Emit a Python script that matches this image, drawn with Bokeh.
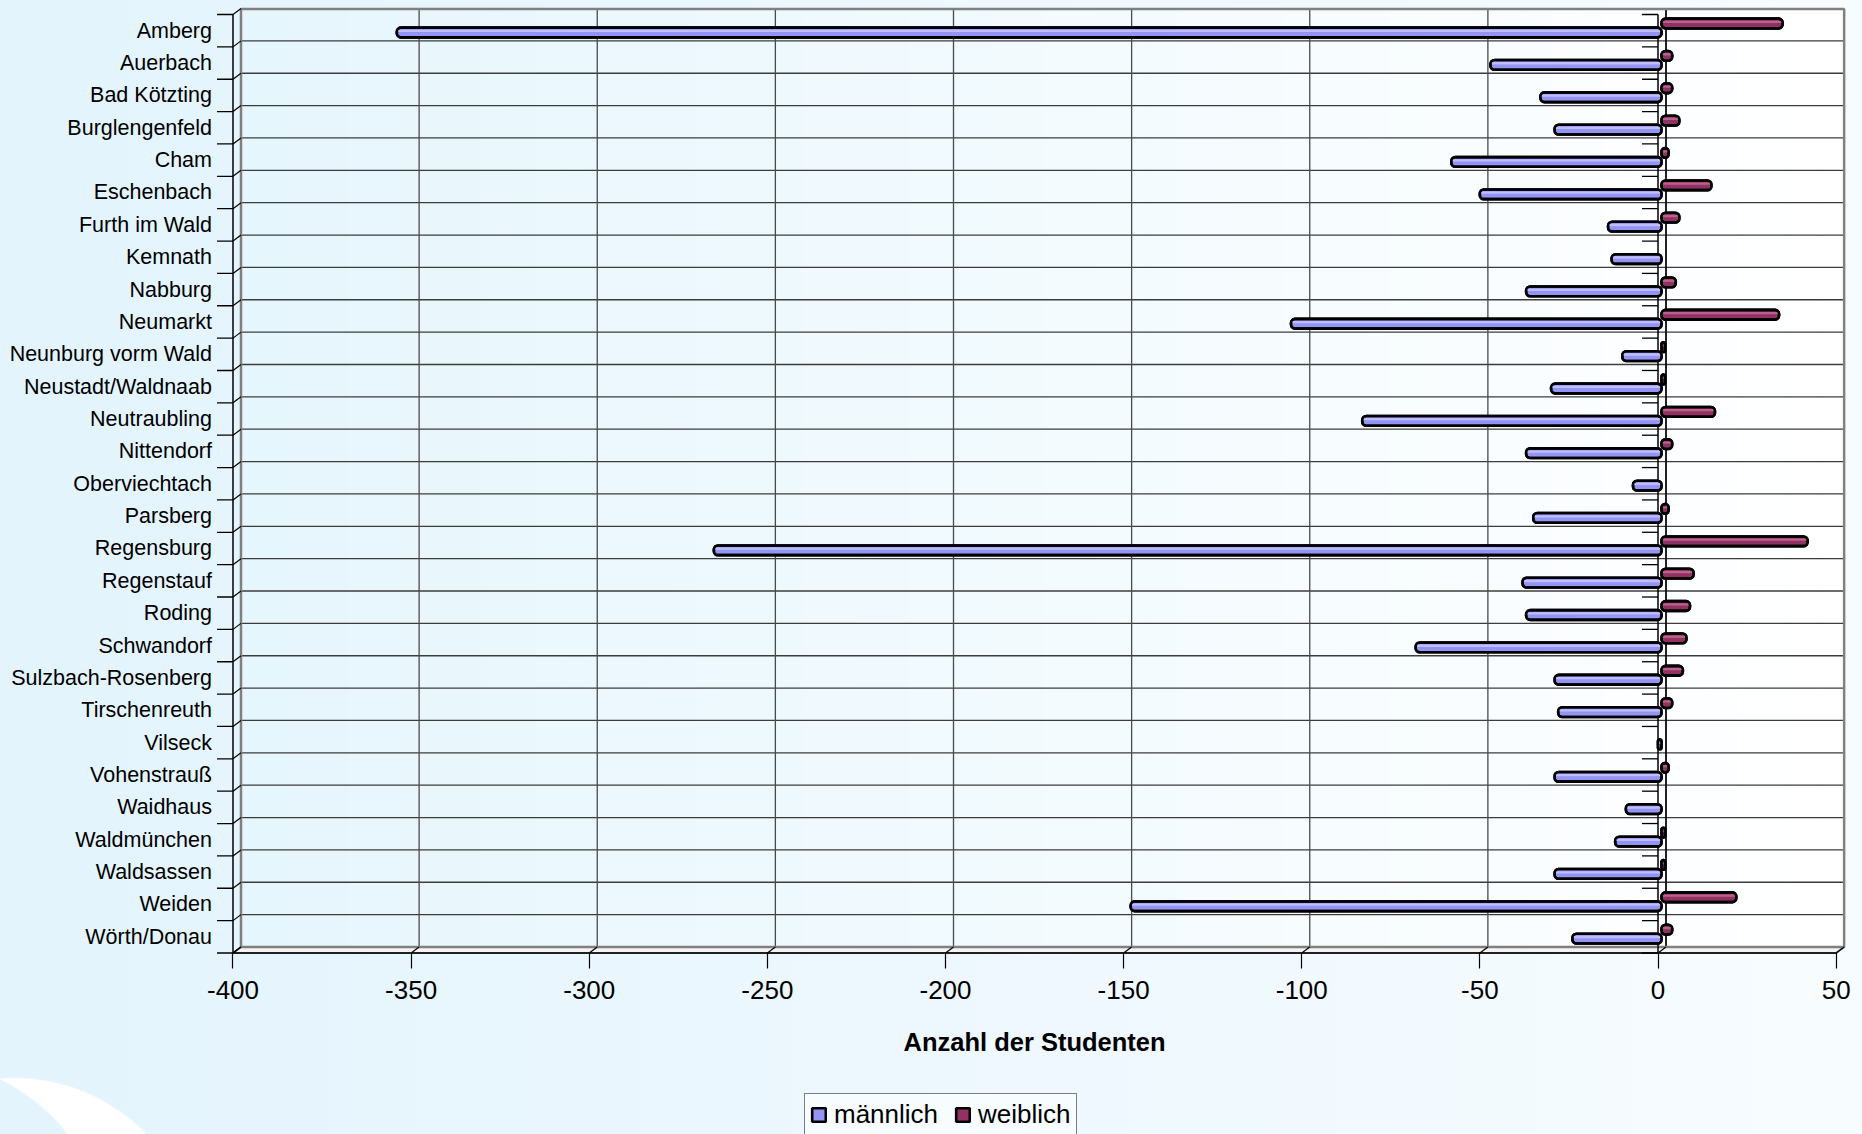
import numpy as np
from bokeh.plotting import figure
from bokeh.models import (ColumnDataSource, FixedTicker, Legend, LegendItem, LinearAxis,
                          GlobalInlineStyleSheet, Range1d, CDSView, BooleanFilter, Label)
from bokeh.transform import dodge
from bokeh.embed import file_html
from bokeh.resources import INLINE

# ---------------- data ----------------
categories = ["Amberg", "Auerbach", "Bad Kötzting", "Burglengenfeld", "Cham",
              "Eschenbach", "Furth im Wald", "Kemnath", "Nabburg", "Neumarkt",
              "Neunburg vorm Wald", "Neustadt/Waldnaab", "Neutraubling",
              "Nittendorf", "Oberviechtach", "Parsberg", "Regensburg",
              "Regenstauf", "Roding", "Schwandorf", "Sulzbach-Rosenberg",
              "Tirschenreuth", "Vilseck", "Vohenstrauß", "Waidhaus",
              "Waldmünchen", "Waldsassen", "Weiden", "Wörth/Donau"]
maennlich = [-355, -48, -34, -30, -59, -51, -15, -14, -38, -104,
             -11, -31, -84, -38, -8, -36, -266, -39, -38, -69,
             -30, -29, -1, -30, -10, -13, -30, -149, -25]
weiblich = [34, 3, 3, 5, 2, 14, 5, 0, 4, 33,
            1, 1, 15, 3, 0, 2, 41, 9, 8, 7,
            6, 3, 0, 2, 0, 1, 1, 21, 3]
x_ticks = [-400, -350, -300, -250, -200, -150, -100, -50, 0, 50]
x_title = "Anzahl der Studenten"
series_names = ["männlich", "weiblich"]

# ---------------- geometry / style ----------------
FONT = "Liberation Sans"
PX_X = 3.5625          # pixels per unit on x
PX_Y = 32.36           # pixels per category band
DX = 8 / PX_X          # 3D depth offset (x)
DY = 6 / PX_Y          # 3D depth offset (y)
BAR_DX = 3.5 / PX_X    # depth of bars
TICK_LEN = 16 / PX_X

n = len(categories)
pos = list(range(n - 1, -1, -1))
src = ColumnDataSource(dict(cat=categories, pos=pos, m=maennlich, w=weiblich,
                            base=[0] * n))

# the frame covers the whole canvas; axes are placed at fixed data locations
p = figure(width=1862, height=1134,
           x_range=Range1d(-465.26, 57.40), y_range=Range1d(-6.109, 28.933),
           output_backend="svg", toolbar_location=None, title=None,
           x_axis_location=None, y_axis_location=None,
           min_border_left=0, min_border_right=0, min_border_top=0,
           min_border_bottom=0)
p.background_fill_alpha = 0
p.border_fill_alpha = 0
p.outline_line_color = None
p.xgrid.visible = False
p.ygrid.visible = False

xa = LinearAxis(fixed_location=-0.5)
xa.ticker = FixedTicker(ticks=x_ticks)
xa.major_label_overrides = {v: str(v) for v in x_ticks}
xa.axis_line_color = None
xa.minor_tick_line_color = None
xa.major_tick_out = 16
xa.major_tick_in = 0
xa.major_tick_line_color = "black"
xa.major_tick_line_width = 1.2
xa.major_label_text_font = FONT
xa.major_label_text_font_size = "26px"
xa.major_label_text_color = "black"
xa.major_label_standoff = 12
p.add_layout(xa, "below")

# axis title, centred under the value axis (-400 .. 50)
p.add_layout(Label(x=(x_ticks[0] + x_ticks[-1]) / 2, y=-3.266, text=x_title,
                   text_align="center", text_baseline="middle",
                   text_font=FONT, text_font_style="bold",
                   text_font_size="25.5px", text_color="black"))

ya = LinearAxis(fixed_location=x_ticks[0])
ya.ticker = FixedTicker(ticks=pos)
ya.major_label_overrides = {pp: c for pp, c in zip(pos, categories)}
ya.axis_line_color = None
ya.major_tick_line_color = None
ya.minor_tick_line_color = None
ya.major_tick_out = 0
ya.major_tick_in = 0
ya.major_label_standoff = 21
ya.major_label_text_font = FONT
ya.major_label_text_font_size = "21.5px"
ya.major_label_text_color = "black"
p.add_layout(ya, "left")

# ---------------- 3D walls ----------------
wall_l, wall_r = x_ticks[0] + DX, x_ticks[-1] + DX
wall_b, wall_t = -0.5 + DY, n - 0.5 + 5.5 / PX_Y
nS = 60
edges = np.linspace(wall_l, wall_r, nS + 1)
c0 = np.array([0xE6, 0xF6, 0xFD]); c1 = np.array([0xFF, 0xFF, 0xFF])
cols = ["#%02x%02x%02x" % tuple(int(round(v)) for v in c0 + (c1 - c0) * t)
        for t in np.linspace(0, 1, nS)]
p.quad(left=edges[:-1], right=edges[1:] + 0.05, bottom=wall_b, top=wall_t,
       fill_color=cols, line_color=None)

# floor
p.patch(x=[x_ticks[0], x_ticks[-1], wall_r, wall_l],
        y=[-0.5, -0.5, wall_b, wall_b],
        fill_color="#F4F4F4", line_color="#808080", line_width=2)

# back gridlines
bounds = [k - 0.5 for k in range(n + 1)]
p.segment(x0=wall_l, x1=wall_r, y0=[b + DY for b in bounds[1:-1]],
          y1=[b + DY for b in bounds[1:-1]], line_color="#3c3c3c", line_width=1.3)
p.segment(x0=[v + DX for v in x_ticks[1:-1]], x1=[v + DX for v in x_ticks[1:-1]],
          y0=wall_b, y1=wall_t, line_color="#4a4a4a", line_width=1.3)
p.segment(x0=[DX], x1=[DX], y0=wall_b, y1=wall_t, line_color="black", line_width=1.5)

# wall border
p.quad(left=wall_l, right=wall_r, bottom=wall_b, top=wall_t,
       fill_color=None, line_color="#808080", line_width=2.5)

# front axes lines
p.segment(x0=[x_ticks[0]], x1=[x_ticks[-1]], y0=-0.5, y1=-0.5,
          line_color="black", line_width=1.5)
p.segment(x0=[x_ticks[-1]], x1=[wall_r], y0=-0.5, y1=wall_b,
          line_color="#808080", line_width=1.5)
p.segment(x0=[x_ticks[0]], x1=[x_ticks[0]], y0=-0.5, y1=n - 0.5,
          line_color="black", line_width=1.5)
p.segment(x0=[0], x1=[0], y0=-0.5, y1=n - 0.5, line_color="black", line_width=1.5)
# category tick marks (left axis and zero axis)
p.segment(x0=x_ticks[0] - TICK_LEN, x1=x_ticks[0], y0=bounds, y1=bounds,
          line_color="black", line_width=1.3)
p.segment(x0=-TICK_LEN, x1=0, y0=bounds, y1=bounds, line_color="black", line_width=1.3)
# diagonals to the back wall
p.segment(x0=x_ticks[0], x1=wall_l, y0=bounds, y1=[b + DY for b in bounds],
          line_color="black", line_width=1.2)
p.segment(x0=x_ticks, x1=[v + DX for v in x_ticks], y0=-0.5, y1=wall_b,
          line_color="black", line_width=1.2)

# ---------------- bars ----------------
RED_OFF, BLUE_OFF, BAR_H = 0.222, -0.056, 0.3
view_m = CDSView(filter=BooleanFilter([v != 0 for v in maennlich]))
view_w = CDSView(filter=BooleanFilter([v != 0 for v in weiblich]))

def bars(field, off, fill, light, view):
    y = dodge("pos", off, range=p.y_range)
    lft = dodge(field, BAR_DX, range=p.x_range)
    rgt = dodge("base", BAR_DX, range=p.x_range)
    if field == "w":
        lft, rgt = rgt, lft
    r = p.hbar(y=y, height=BAR_H, left=lft, right=rgt, source=src, view=view,
               fill_color=fill, line_color="black", line_width=2.6, border_radius=4)
    p.hbar(y=dodge("pos", off + 0.05, range=p.y_range), height=0.07,
           left=lft, right=rgt, source=src, view=view,
           fill_color=light, line_color=None)
    p.hbar(y=y, height=BAR_H, left=lft, right=rgt, source=src, view=view,
           fill_color=None, line_color="black", line_width=2.6, border_radius=4)
    return r

rm = bars("m", BLUE_OFF, "#9494F5", "#BDBDFF", view_m)
rw = bars("w", RED_OFF, "#923262", "#B8628C", view_w)

legend = Legend(items=[LegendItem(label=series_names[0], renderers=[rm]),
                       LegendItem(label=series_names[1], renderers=[rw])],
                orientation="horizontal", location=(804, -2))
legend.label_text_font = FONT
legend.label_text_font_size = "26px"
legend.label_text_color = "black"
legend.glyph_width = 17
legend.glyph_height = 17
legend.label_standoff = 7
legend.spacing = 16
legend.padding = 5
legend.margin = 0
legend.border_line_color = "black"
legend.border_line_width = 1
legend.background_fill_color = "#F7FCFF"
legend.background_fill_alpha = 1
p.add_layout(legend)

css = """
html, body {
  background-color: #E4F4FC;
  background-image:
    radial-gradient(circle 203px at -90px 1260px, #E4F4FC 99%, rgba(228,244,252,0) 100%),
    radial-gradient(ellipse 190px 200px at 15px 1277px, #FFFFFF 99%, rgba(255,255,255,0) 100%),
    linear-gradient(to right, #E3F4FD 0%, #EEF8FE 55%, #F7FCFF 100%);
  background-repeat: no-repeat;
}
"""
p.stylesheets = [GlobalInlineStyleSheet(css=css)]

open("out.html", "w").write(file_html(p, INLINE))
